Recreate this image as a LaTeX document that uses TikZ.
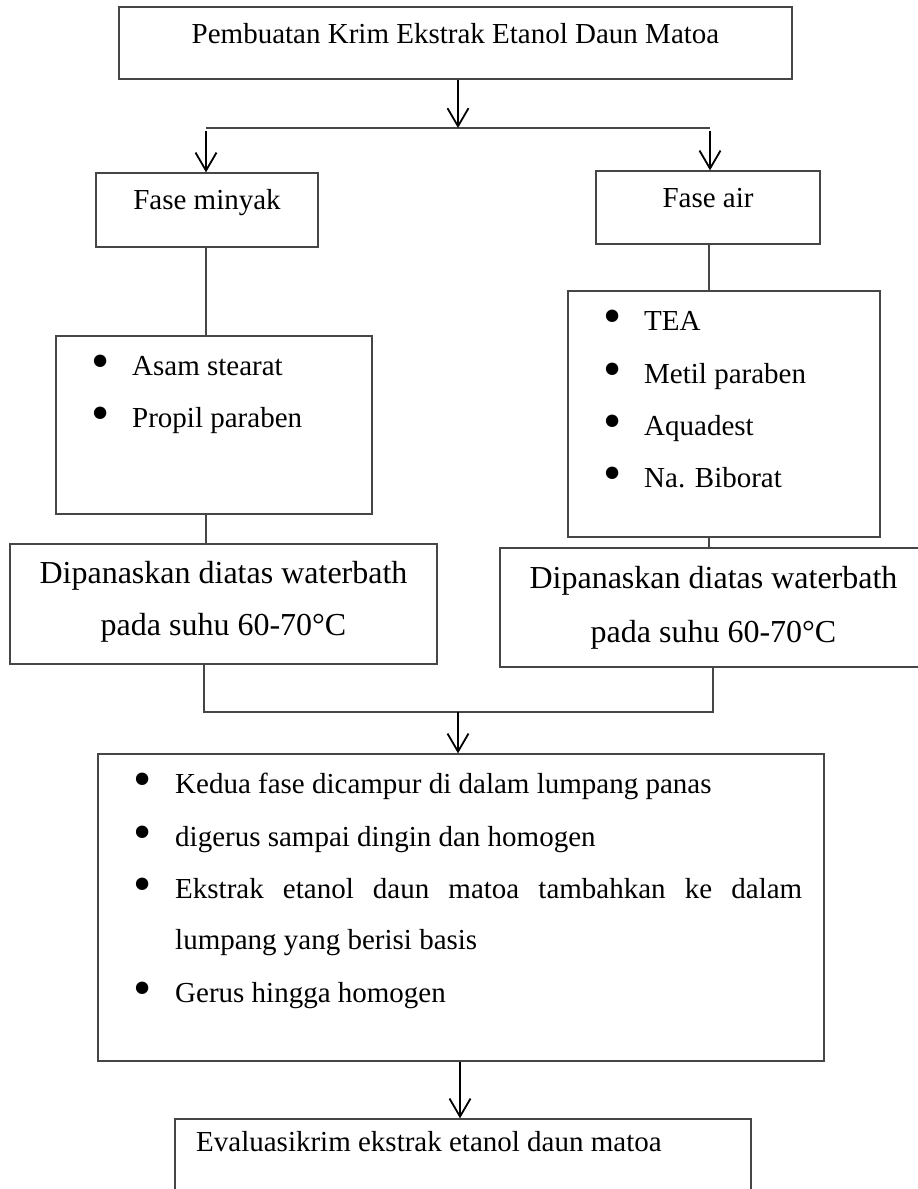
\documentclass[tikz,border=0pt]{standalone}
\usepackage{fontspec}
\setmainfont{Liberation Serif}
\usetikzlibrary{arrows.meta,fit}
\definecolor{lg}{RGB}{70,70,70}
\tikzset{
  box/.style={draw=lg, line width=1.3pt, inner sep=0pt},
  ln/.style={draw=lg, line width=1.3pt},
  arr/.style={draw=black, line width=1.8pt, -{Straight Barb[length=18pt,width=21pt,line width=1.8pt]}},
  tx/.style={font=\fontsize{29}{34}\selectfont, inner sep=0pt},
  tb/.style={font=\fontsize{32}{38}\selectfont, inner sep=0pt},
  bul/.style={font=\fontsize{52}{52}\selectfont, inner sep=0pt, anchor=center},
}
\begin{document}
\begin{tikzpicture}[x=1pt,y=-1pt]
\useasboundingbox (0,0) rectangle (918,1189);
\fill[white] (0,0) rectangle (918,1189);
\clip (0,0) rectangle (918,1189);

% boxes
\node[box, fit={(119,7) (792,79)}] (top) {};
\node[box, fit={(96,173) (318,247)}] (fm) {};
\node[box, fit={(596,171) (820,244)}] (fa) {};
\node[box, fit={(56,336) (372,514)}] (lb) {};
\node[box, fit={(568,291) (880,537)}] (rb) {};
\node[box, fit={(10,544) (437,664)}] (ld) {};
\node[box, fit={(500,548) (927,667)}] (rd) {};
\node[box, fit={(98,754) (824,1061)}] (mid) {};
\node[box, fit={(175,1119) (751,1230)}] (bot) {};

% junction coordinates
\coordinate (j1) at (458,128);
\coordinate (jl) at (206,128);
\coordinate (jr) at (710,128);
\coordinate (cl) at (206,300);
\coordinate (cr) at (709,300);
\coordinate (ml) at (204,712);
\coordinate (mr) at (713,712);
\coordinate (mc) at (458,712);
\coordinate (bc) at (460,1090);

% connectors
\draw[ln] (jl) -- (jr);
\draw[ln] (cl |- fm.south) -- (cl |- lb.north);
\draw[ln] (cl |- lb.south) -- (cl |- ld.north);
\draw[ln] (cr |- fa.south) -- (cr |- rb.north);
\draw[ln] (cr |- rb.south) -- (cr |- rd.north);
\draw[ln] (ml |- ld.south) -- (ml) -- (mr) -- (mr |- rd.south);
\draw[arr] (top.south -| j1) -- (j1);
\draw[arr] ([yshift=-3pt]jl) -- (jl |- fm.north);
\draw[arr] ([yshift=-3pt]jr) -- (jr |- fa.north);
\draw[arr] (mc) -- (mc |- mid.north);
\draw[arr] (bc |- mid.south) -- (bc |- bot.north);

% texts
\node[tx, anchor=base] (ttop) at (455.5,43) {Pembuatan Krim Ekstrak Etanol Daun Matoa};
\node[tx, anchor=base] (tfm) at (207,209) {Fase minyak};
\node[tx, anchor=base] (tfa) at (708,207) {Fase air};

\node[bul] (bl1) at (101,366.5) {•};
\node[bul] (bl2) at (101,418.5) {•};
\node[tx, anchor=base west] (tl1) at (132,375) {Asam stearat};
\node[tx, anchor=base west] (tl2) at (132,427) {Propil paraben};

\node[bul] (br1) at (613,321.5) {•};
\node[bul] (br2) at (613,374.5) {•};
\node[bul] (br3) at (613,426.5) {•};
\node[bul] (br4) at (613,478.5) {•};
\node[tx, anchor=base west] (tr1) at (644,330) {TEA};
\node[tx, anchor=base west] (tr2) at (644,383) {Metil paraben};
\node[tx, anchor=base west] (tr3) at (644,435) {Aquadest};
\node[tx, anchor=base west] (tr4) at (644,487) {Na. Biborat};

\node[tb, anchor=base] (tld1) at (223.5,583) {Dipanaskan diatas waterbath};
\node[tb, anchor=base] (tld2) at (223.5,635) {pada suhu 60-70°C};
\node[tb, anchor=base] (trd1) at (713.5,588) {Dipanaskan diatas waterbath};
\node[tb, anchor=base] (trd2) at (713.5,642) {pada suhu 60-70°C};

\node[bul] (bm1) at (143,784.5) {•};
\node[bul] (bm2) at (143,837.5) {•};
\node[bul] (bm3) at (143,889.5) {•};
\node[bul] (bm4) at (143,993.5) {•};
\node[tx, anchor=base west] (tm1) at (175,793) {Kedua fase dicampur di dalam lumpang panas};
\node[tx, anchor=base west] (tm2) at (175,846) {digerus sampai dingin dan homogen};
\node[tx, anchor=base west] (tm3) at (175,898) {\hbox to 627pt{Ekstrak\hfill etanol\hfill daun\hfill matoa\hfill tambahkan\hfill ke\hfill dalam}};
\node[tx, anchor=base west] (tm4) at (175,949) {lumpang yang berisi basis};
\node[tx, anchor=base west] (tm5) at (175,1002) {Gerus hingga homogen};

\node[tx, anchor=base west] (tbot) at (196,1151.5) {Evaluasikrim ekstrak etanol daun matoa};
\end{tikzpicture}
\end{document}
